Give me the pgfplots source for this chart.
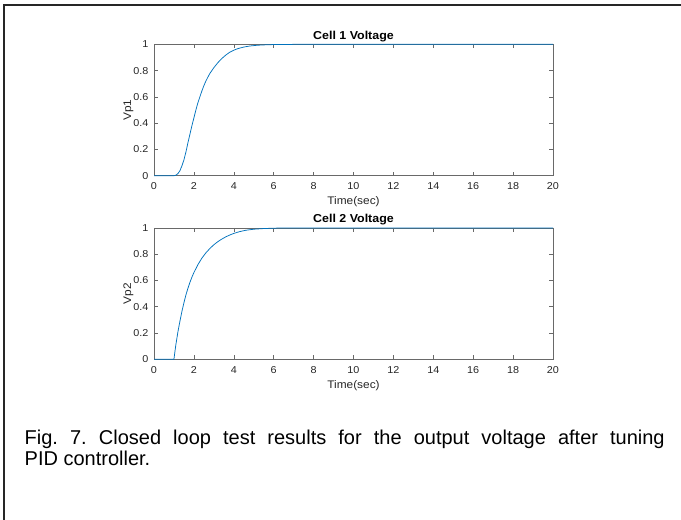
\documentclass[border=0pt]{standalone}
\usepackage{fontspec}
\setmainfont{Liberation Sans}
\newfontfamily\plotfont[FakeStretch=1.08]{Liberation Sans}
\usepackage{pgfplots}
\pgfplotsset{compat=1.18}

\definecolor{matblue}{RGB}{0,114,189}
\definecolor{axgray}{RGB}{105,105,105}

\pgfplotsset{
  cellaxis/.style={
    scale only axis, width=399pt, height=131.4pt,
    anchor=south west,
    xmin=0, xmax=20, ymin=0, ymax=1,
    xtick={0,2,4,6,8,10,12,14,16,18,20},
    ytick={0,0.2,0.4,0.6,0.8,1},
    tick align=inside, major tick length=4pt,
    axis line style={axgray, line width=0.6pt},
    every tick/.style={axgray, line width=0.6pt},
    /pgf/number format/assume math mode=true,
    tick label style={font=\plotfont\fontsize{10}{12}\selectfont, text=black!85},
    xticklabel style={anchor=base, yshift=-14pt},
    yticklabel style={anchor=east, xshift=-2pt},
    xlabel style={font=\plotfont\fontsize{11}{13}\selectfont, text=black!85,
      at={(axis description cs:0.5,0)}, anchor=base, yshift=-29pt},
    ylabel style={font=\plotfont\fontsize{11}{13}\selectfont, text=black!85,
      at={(axis description cs:-0.0576,0.5)}, anchor=base},
    title style={font=\plotfont\bfseries\fontsize{11.5}{13}\selectfont,
      at={(axis description cs:0.5,1)}, anchor=base, yshift=-1pt},
    clip=false,
  }
}

\begin{document}
\frenchspacing
\begin{tikzpicture}
\path[use as bounding box] (0,0) rectangle (681pt,520pt);
\draw[line width=2pt, black!85] (3.7pt,0pt) -- (3.7pt,514.5pt) -- (681pt,514.5pt);

% Cell 1 output voltage
\begin{axis}[cellaxis, at={(154pt,344.3pt)},
  title={Cell 1 Voltage}, xlabel={Time(sec)}, ylabel={Vp1}]
\addplot[matblue, line width=0.75pt] table {
x y
0 0
1.0 0
1.1 0.004
1.2 0.016
1.3 0.038
1.4 0.075
1.5 0.12
1.6 0.18
1.7 0.25
1.8 0.315
1.9 0.38
2.0 0.44
2.1 0.50
2.2 0.555
2.3 0.60
2.4 0.645
2.5 0.685
2.6 0.72
2.7 0.75
2.8 0.778
2.9 0.80
3.0 0.822
3.2 0.86
3.4 0.892
3.6 0.918
3.8 0.94
4.0 0.955
4.2 0.967
4.5 0.979
4.8 0.987
5.2 0.993
5.6 0.996
6.0 0.998
7.0 0.9995
8 1
20 1
};
\end{axis}

% Cell 2 output voltage
\begin{axis}[cellaxis, at={(154pt,160.7pt)},
  title={Cell 2 Voltage}, xlabel={Time(sec)}, ylabel={Vp2}]
\addplot[matblue, line width=0.75pt] table {
x y
0 0
1.0 0
1.05 0.06
1.1 0.115
1.2 0.21
1.3 0.29
1.4 0.365
1.5 0.43
1.6 0.49
1.7 0.54
1.8 0.585
1.9 0.625
2.0 0.66
2.2 0.72
2.4 0.77
2.6 0.81
2.8 0.843
3.0 0.872
3.2 0.895
3.4 0.915
3.6 0.932
3.8 0.946
4.0 0.958
4.3 0.972
4.6 0.982
5.0 0.99
5.5 0.995
6.0 0.998
7.0 1.0
20 1
};
\end{axis}

% Figure caption
\node[anchor=base west, inner sep=0pt, font=\fontsize{20}{21}\selectfont]
  at (24.5pt,75pt)
  {\makebox[640pt][s]{Fig. 7. Closed loop test results for the output voltage after tuning}};
\node[anchor=base west, inner sep=0pt, font=\fontsize{20}{21}\selectfont]
  at (24.5pt,54pt) {PID controller.};
\end{tikzpicture}
\end{document}
